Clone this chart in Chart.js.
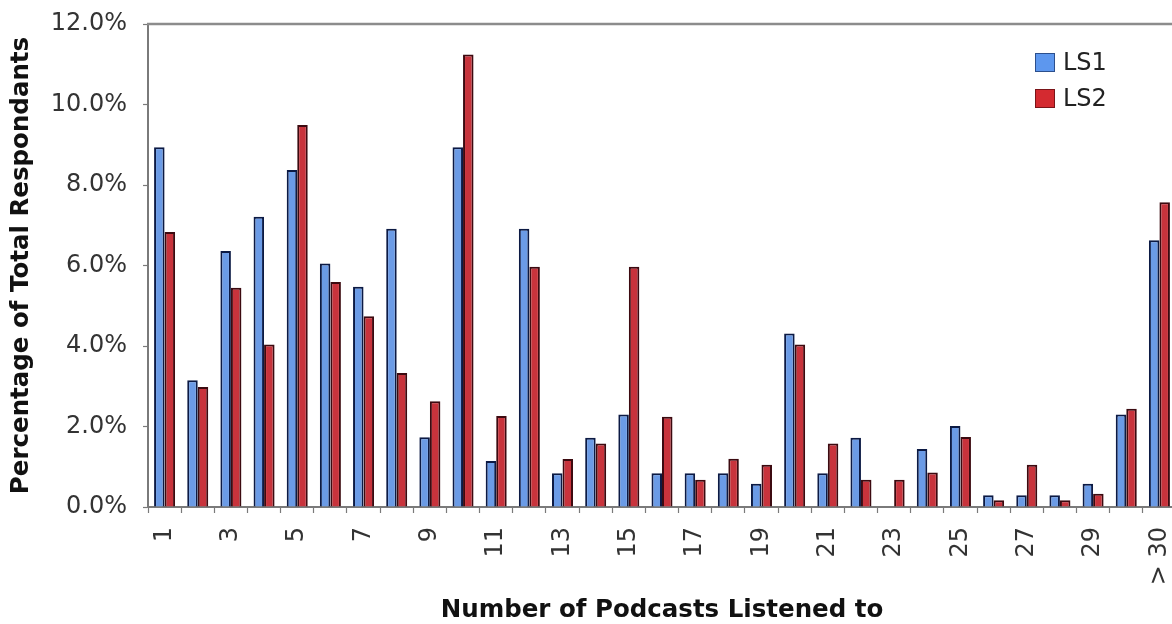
<!DOCTYPE html>
<html>
<head>
<meta charset="utf-8">
<script src="https://cdn.jsdelivr.net/npm/chart.js@4.4.1/dist/chart.umd.min.js"></script>
<style>
  html, body { margin: 0; padding: 0; background: #ffffff; overflow: hidden; }
  #wrap { position: relative; width: 1172px; height: 624px; overflow: hidden; background: #ffffff; }
  canvas { display: block; }
</style>
</head>
<body>
<div id="wrap"><canvas id="chart" width="1176" height="624"></canvas></div>
<script>
// Number of podcasts listened to, share of respondents (%)
const categories = ['1','2','3','4','5','6','7','8','9','10','11','12','13','14','15','16',
                    '17','18','19','20','21','22','23','24','25','26','27','28','29','30','> 30'];
const ls1 = [8.94, 3.15, 6.36, 7.21, 8.37, 6.05, 5.47, 6.91, 1.73, 8.94, 1.14, 6.91, 0.84, 1.72, 2.30, 0.84,
             0.84, 0.84, 0.58, 4.31, 0.84, 1.72, 0.00, 1.44, 2.01, 0.29, 0.29, 0.29, 0.58, 2.30, 6.63];
const ls2 = [6.83, 2.98, 5.45, 4.04, 9.49, 5.59, 4.74, 3.33, 2.63, 11.24, 2.26, 5.97, 1.19, 1.58, 5.97, 2.24,
             0.68, 1.20, 1.05, 4.04, 1.58, 0.68, 0.68, 0.86, 1.74, 0.17, 1.05, 0.17, 0.33, 2.44, 7.57];
const seriesNames = ['LS1', 'LS2'];
const yMin = 0, yMax = 12, yStep = 2;

const FONT = "'DejaVu Sans', Verdana, sans-serif";
Chart.defaults.font.family = FONT;

// Grey frame line along the top of the plot area
const topFrame = {
  id: 'topFrame',
  afterDatasetsDraw(chart) {
    const { ctx, chartArea } = chart;
    ctx.save();
    ctx.strokeStyle = '#8c8c8c';
    ctx.lineWidth = 2.5;
    ctx.beginPath();
    ctx.moveTo(chartArea.left - 1, chartArea.top);
    ctx.lineTo(chartArea.right + 2, chartArea.top);
    ctx.stroke();
    ctx.restore();
  }
};

// Legend boxes placed inside the plot, upper right
const innerLegend = {
  id: 'innerLegend',
  afterDraw(chart) {
    const { ctx } = chart;
    const x = 1035, y0 = 53, gap = 36, bw = 20, bh = 19;
    const fills = ['#5d97ee', '#d42a30'];
    const edges = ['#2c4f8c', '#7a1418'];
    ctx.save();
    chart.data.datasets.forEach((ds, i) => {
      const y = y0 + i * gap;
      ctx.fillStyle = fills[i];
      ctx.fillRect(x, y, bw, bh);
      ctx.strokeStyle = edges[i];
      ctx.lineWidth = 1;
      ctx.strokeRect(x + 0.5, y + 0.5, bw - 1, bh - 1);
      ctx.fillStyle = '#222222';
      ctx.font = '24px ' + FONT;
      ctx.textBaseline = 'middle';
      ctx.textAlign = 'left';
      ctx.fillText(ds.label, x + 28, y + bh / 2 + 1);
    });
    ctx.restore();
  }
};

new Chart(document.getElementById('chart'), {
  type: 'bar',
  data: {
    labels: categories,
    datasets: [
      {
        label: seriesNames[0],
        data: ls1,
        backgroundColor: '#6b9be6',
        borderColor: '#0c1a44',
        borderWidth: 2
      },
      {
        label: seriesNames[1],
        data: ls2,
        backgroundColor: '#c8333c',
        borderColor: '#3c0a10',
        borderWidth: 2
      }
    ]
  },
  options: {
    responsive: false,
    animation: false,
    layout: { padding: { top: 24, right: 0, bottom: 0, left: 0 } },
    datasets: {
      bar: { categoryPercentage: 0.634, barPercentage: 1.0 }
    },
    plugins: {
      legend: { display: false },
      tooltip: { enabled: false },
      title: { display: false }
    },
    scales: {
      x: {
        offset: true,
        grid: {
          offset: true,
          drawOnChartArea: false,
          drawTicks: true,
          tickLength: 6,
          tickColor: '#7a7a7a',
          tickWidth: 1.2
        },
        border: { display: true, color: '#7a7a7a', width: 2 },
        ticks: {
          autoSkip: false,
          minRotation: 90,
          maxRotation: 90,
          padding: 14,
          color: '#333333',
          font: { size: 24 },
          callback: function (value, index) {
            return index % 2 === 0 ? this.getLabelForValue(value) : '';
          }
        },
        title: {
          display: true,
          text: 'Number of Podcasts Listened to',
          color: '#111111',
          font: { size: 24.5, weight: 'bold', lineHeight: 1 },
          padding: { top: 0, bottom: 1 }
        },
        afterFit(scale) {
          scale.height = 117;
          scale.paddingLeft = 0;
          scale.paddingRight = 0;
        }
      },
      y: {
        min: yMin,
        max: yMax,
        grid: {
          drawOnChartArea: false,
          drawTicks: true,
          tickLength: 5,
          tickColor: '#7a7a7a',
          tickWidth: 1.2
        },
        border: { display: true, color: '#7a7a7a', width: 2 },
        ticks: {
          stepSize: yStep,
          padding: 16,
          color: '#333333',
          font: { size: 24 },
          callback: (v) => v.toFixed(1) + '%'
        },
        title: {
          display: true,
          text: 'Percentage of Total Respondants',
          color: '#111111',
          font: { size: 24.5, weight: 'bold', lineHeight: 1.2 },
          padding: { top: 7, bottom: 0 }
        },
        afterFit(scale) {
          scale.width = 148;
          scale.paddingTop = 0;
          scale.paddingBottom = 0;
        }
      }
    }
  },
  plugins: [topFrame, innerLegend]
});
</script>
</body>
</html>
